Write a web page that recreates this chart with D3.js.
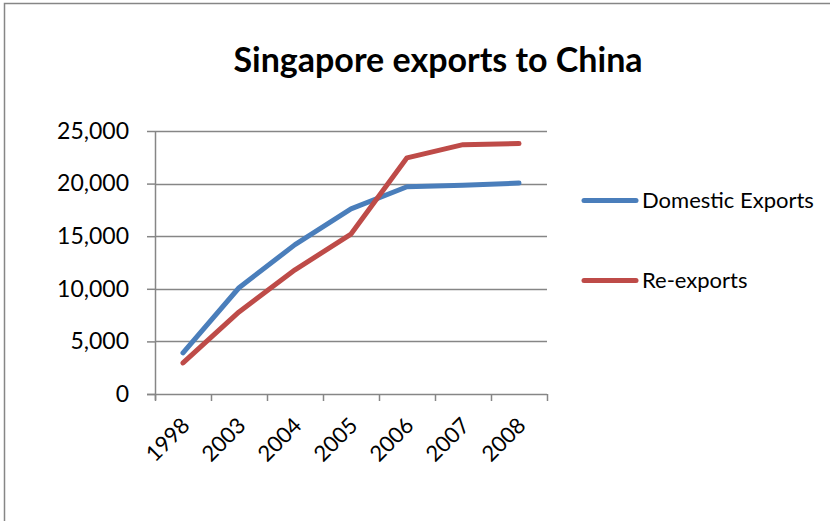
<!DOCTYPE html>
<html>
<head>
<meta charset="utf-8">
<script src="https://cdn.jsdelivr.net/npm/d3@7"></script>
<style>
  html, body { margin: 0; padding: 0; background: #fff; }
  svg { display: block; }
  text { font-family: Lato, "Open Sans", sans-serif; fill: #000; }
</style>
</head>
<body>
<svg id="chart" width="830" height="521"></svg>
<script>
// Singapore exports to China (S$ million)
const years = ["1998", "2003", "2004", "2005", "2006", "2007", "2008"];
const domesticExports = [3900, 10100, 14200, 17600, 19700, 19850, 20050];
const reExports = [2950, 7800, 11800, 15200, 22450, 23700, 23800];
const yTicks = [0, 5000, 10000, 15000, 20000, 25000];
const seriesNames = ["Domestic Exports", "Re-exports"];
const seriesColors = ["#4A7EBB", "#BE4B48"];

const svg = d3.select("#chart");
const W = 830, H = 521;
const plot = { left: 155, right: 547, top: 131, bottom: 394 };
const grey = "#868686";

// chart area frame
svg.append("rect")
  .attr("x", 4.5).attr("y", 3.5)
  .attr("width", W + 20).attr("height", H + 20)
  .attr("fill", "#fff").attr("stroke", grey).attr("stroke-width", 1.5);

const x = d3.scaleBand().domain(years).range([plot.left, plot.right]).padding(0);
const y = d3.scaleLinear().domain([0, 25000]).range([plot.bottom, plot.top]);

// title
svg.append("text")
  .attr("x", 438).attr("y", 72)
  .attr("text-anchor", "middle")
  .style("font-weight", "bold").style("font-size", "34px")
  .text("Singapore exports to China");

// horizontal gridlines
svg.append("g")
  .selectAll("line")
  .data(yTicks.filter(d => d > 0))
  .join("line")
  .attr("x1", plot.left).attr("x2", plot.right)
  .attr("y1", d => Math.round(y(d)) + 0.5).attr("y2", d => Math.round(y(d)) + 0.5)
  .attr("stroke", grey).attr("stroke-width", 1.5);

// value axis
const yAxis = svg.append("g")
  .attr("transform", `translate(${plot.left},0)`)
  .call(d3.axisLeft(y).tickValues(yTicks).tickSize(8).tickPadding(18)
    .tickFormat(d3.format(",")));
yAxis.select(".domain").attr("stroke", grey).attr("stroke-width", 1.5)
  .attr("d", `M0.5,${plot.top}V${plot.bottom + 6}`);
yAxis.selectAll(".tick line").attr("stroke", grey).attr("stroke-width", 1.5);
yAxis.selectAll(".tick text").style("font-size", "23px").attr("fill", "#000");

// category axis
const xAxis = svg.append("g")
  .attr("transform", `translate(0,${plot.bottom})`);
xAxis.append("line")
  .attr("x1", plot.left - 8).attr("x2", plot.right)
  .attr("y1", 0.5).attr("y2", 0.5)
  .attr("stroke", grey).attr("stroke-width", 1.5);
const boundaries = years.map(d => x(d)).concat([x(years[years.length - 1]) + x.bandwidth()]);
xAxis.selectAll("line.tick")
  .data(boundaries)
  .join("line")
  .attr("class", "tick")
  .attr("x1", d => Math.round(d) + 0.5).attr("x2", d => Math.round(d) + 0.5)
  .attr("y1", 0).attr("y2", 7)
  .attr("stroke", grey).attr("stroke-width", 1.5);
xAxis.selectAll("text")
  .data(years)
  .join("text")
  .attr("text-anchor", "end")
  .attr("transform", d => `translate(${x(d) + x.bandwidth() / 2 + 8},${33}) rotate(-45)`)
  .style("font-size", "22px")
  .text(d => d);

// series lines
const series = [domesticExports, reExports];
const line = d3.line()
  .x((d, i) => x(years[i]) + x.bandwidth() / 2)
  .y(d => y(d));
svg.append("g")
  .selectAll("path")
  .data(series)
  .join("path")
  .attr("d", d => line(d))
  .attr("fill", "none")
  .attr("stroke", (d, i) => seriesColors[i])
  .attr("stroke-width", 5)
  .attr("stroke-linecap", "round")
  .attr("stroke-linejoin", "round");

// legend
const legend = svg.append("g");
const legendY = [200.5, 280.5];
seriesNames.forEach((name, i) => {
  legend.append("line")
    .attr("x1", 584).attr("x2", 636)
    .attr("y1", legendY[i]).attr("y2", legendY[i])
    .attr("stroke", seriesColors[i]).attr("stroke-width", 5)
    .attr("stroke-linecap", "round");
  legend.append("text")
    .attr("x", 642).attr("y", legendY[i])
    .attr("dy", "0.36em")
    .style("font-size", "22px")
    .text(name);
});
</script>
</body>
</html>
